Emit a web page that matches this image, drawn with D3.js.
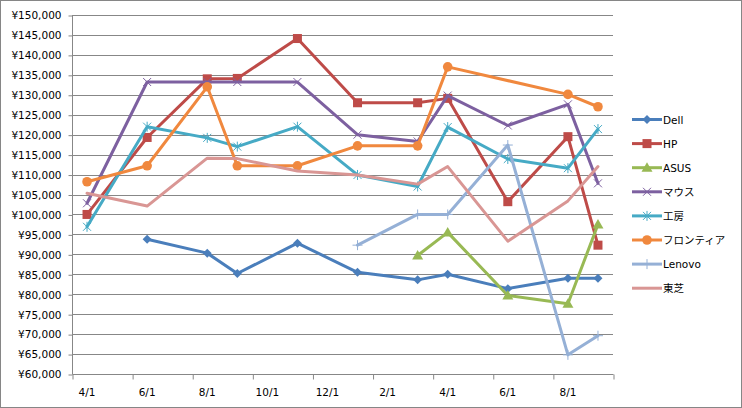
<!DOCTYPE html>
<html><head><meta charset="utf-8">
<script src="https://cdn.jsdelivr.net/npm/d3@7"></script>
<style>
html,body{margin:0;padding:0;background:#fff;}
svg text{font-family:"DejaVu Sans","Noto Sans CJK JP",sans-serif;font-size:10.5px;fill:#000;}
</style></head>
<body><svg id="c" width="742" height="408"></svg>
<script>
// month slots of the date axis (base unit: month)
const monthSlots = ["2012-04","2012-05","2012-06","2012-07","2012-08","2012-09","2012-10","2012-11","2012-12",
  "2013-01","2013-02","2013-03","2013-04","2013-05","2013-06","2013-07","2013-08","2013-09"];
// observation dates
const dates = ["2012-04","2012-06","2012-08","2012-09","2012-11","2013-01","2013-03","2013-04","2013-06","2013-08","2013-09"];
const yTicks = [60000,65000,70000,75000,80000,85000,90000,95000,100000,105000,110000,115000,120000,125000,130000,135000,140000,145000,150000];

const dell     = [null, 93800, 90300, 85200, 92800, 85500, 83600, 85000, 81400, 84000, 84000];
const hp       = [100000,119300,134000,134100,144100,128000,128000,129100,103200,119500,92300];
const asus     = [null, null, null, null, null, null, 89700, 95500, 79700, 77600, 97500];
const mouse    = [102800,133200,133200,133200,133200,120000,118300,129800,122300,127600,107800];
const kobo     = [96900,122000,119200,117000,122000,109900,107000,121900,113900,111600,121400];
const frontier = [108200,112200,132000,112200,112200,117200,117200,137000,null,130100,127000];
const lenovo   = [null, null, null, null, null, 92300, 100000,100000,117400,64800,69600];
const toshiba  = [105300,102100,114100,114000,110900,109900,107600,112000,93300,103400,112000];

const seriesNames = ["Dell","HP","ASUS","マウス","工房","フロンティア","Lenovo","東芝"];
const seriesValues = [dell,hp,asus,mouse,kobo,frontier,lenovo,toshiba];
const colors = ["#4A7EBB","#BE4B48","#98B954","#7D60A0","#46AAC5","#F0883E","#95B0D6","#D99694"];
const markers = ["diamond","square","triangle","x","asterisk","circle","plus","none"];

const svg = d3.select("#c");
const L = 72, R = 613, T = 15, B = 374;
const grid = "#878787";

// outer border
svg.append("rect").attr("x",0.5).attr("y",0.5).attr("width",741).attr("height",407)
  .attr("fill","#fff").attr("stroke","#868686");

const x = d3.scaleBand().domain(monthSlots).range([L, R]).paddingInner(0).paddingOuter(0);
const xi = d3.scaleLinear().domain([0, monthSlots.length]).range([L, R]);
const y = d3.scaleLinear().domain([60000,150000]).range([B, T]);

// gridlines
svg.append("g").selectAll("line").data(yTicks.slice(1)).join("line")
  .attr("x1",L).attr("x2",R).attr("y1",d=>Math.round(y(d))+0.5).attr("y2",d=>Math.round(y(d))+0.5)
  .attr("stroke",grid).attr("stroke-width",1);

// y axis
const ya = svg.append("g").attr("transform",`translate(${L+0.5},0.5)`)
  .call(d3.axisLeft(y).tickValues(yTicks).tickSize(4).tickPadding(7)
    .tickFormat(d=>"¥"+d3.format(",")(d)));
ya.selectAll("path,line").attr("stroke",grid);
ya.selectAll("text").attr("font-size",null).attr("font-family",null);
ya.select(".domain").attr("d",`M0,${y(150000)}V${y(60000)}`);

// x axis
const xticks = d3.range(0, monthSlots.length+1, 2);
const xa = svg.append("g").attr("transform",`translate(0.5,${Math.round(B)+0.5})`)
  .call(d3.axisBottom(xi).tickValues(xticks).tickSize(5).tickFormat(""));
xa.selectAll("path,line").attr("stroke",grid);
xa.select(".domain").attr("d",`M${L},0H${R}`);
svg.append("g").selectAll("text").data(monthSlots.filter((d,i)=>i%2===0)).join("text")
  .attr("x",d=>x(d)+x.bandwidth()/2).attr("y",396).attr("text-anchor","middle")
  .text(d=>(+d.slice(5))+"/1");

// marker drawing
function drawMarker(g, type, color, cx, cy){
  const s = 4;
  if(type==="diamond"){
    g.append("path").attr("d",`M${cx},${cy-4.5}L${cx+4.5},${cy}L${cx},${cy+4.5}L${cx-4.5},${cy}Z`).attr("fill",color);
  } else if(type==="square"){
    g.append("rect").attr("x",cx-4.5).attr("y",cy-4.5).attr("width",9).attr("height",9).attr("fill",color);
  } else if(type==="triangle"){
    g.append("path").attr("d",`M${cx},${cy-5.5}L${cx+5.5},${cy+4}L${cx-5.5},${cy+4}Z`).attr("fill",color);
  } else if(type==="circle"){
    g.append("circle").attr("cx",cx).attr("cy",cy).attr("r",4.8).attr("fill",color);
  } else if(type==="x"){
    g.append("path").attr("d",`M${cx-s},${cy-s}L${cx+s},${cy+s}M${cx-s},${cy+s}L${cx+s},${cy-s}`)
      .attr("stroke",color).attr("stroke-width",1).attr("fill","none");
  } else if(type==="asterisk"){
    g.append("path").attr("d",`M${cx-s},${cy-s}L${cx+s},${cy+s}M${cx-s},${cy+s}L${cx+s},${cy-s}M${cx},${cy-5}L${cx},${cy+5}`)
      .attr("stroke",color).attr("stroke-width",1).attr("fill","none");
  } else if(type==="plus"){
    g.append("path").attr("d",`M${cx-5},${cy}L${cx+5},${cy}M${cx},${cy-5}L${cx},${cy+5}`)
      .attr("stroke",color).attr("stroke-width",1).attr("fill","none");
  }
}

const line = d3.line().x(d=>x(d.date)+x.bandwidth()/2).y(d=>y(d.v));
seriesValues.forEach((vals,si)=>{
  const pts = dates.map((dt,i)=>({date:dt,v:vals[i]})).filter(d=>d.v!=null);
  const g = svg.append("g");
  g.append("path").datum(pts).attr("d",line).attr("fill","none")
    .attr("stroke",colors[si]).attr("stroke-width",3).attr("stroke-linejoin","round").attr("stroke-linecap","round");
  pts.forEach(p=>drawMarker(g, markers[si], colors[si], x(p.date)+x.bandwidth()/2, y(p.v)));
});

// legend
const lg = svg.append("g");
seriesNames.forEach((n,i)=>{
  const cy = 119.5 + i*24.1;
  lg.append("line").attr("x1",632).attr("x2",662).attr("y1",cy).attr("y2",cy)
    .attr("stroke",colors[i]).attr("stroke-width",3);
  drawMarker(lg, markers[i], colors[i], 647, cy);
  lg.append("text").attr("x",663).attr("y",cy+4).text(n);
});
</script></body></html>
